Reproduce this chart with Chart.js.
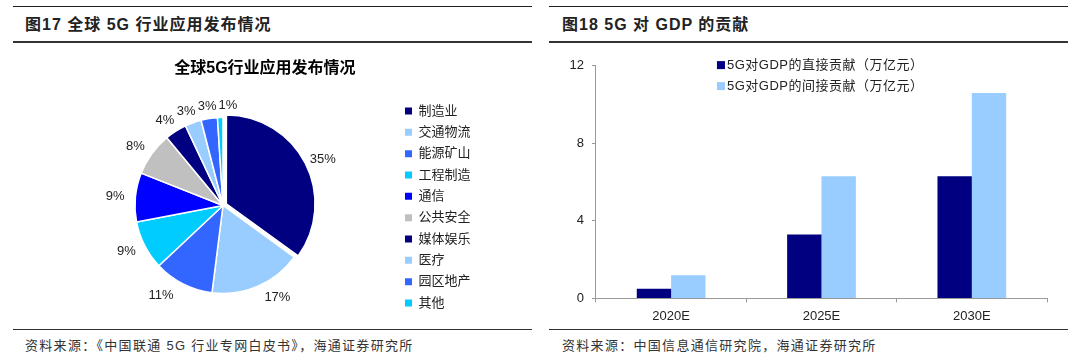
<!DOCTYPE html>
<html>
<head>
<meta charset="utf-8">
<script src="https://cdn.jsdelivr.net/npm/chart.js@4.4.1/dist/chart.umd.min.js"></script>
<style>
  body { margin: 0; width: 1080px; height: 363px; background: #fff; position: relative; overflow: hidden;
    font-family: "Liberation Sans", "Noto Sans CJK SC", sans-serif; color: #222; }
  .rule { position: absolute; height: 0; }
  .top { border-top: 1.5px solid #222; top: 6px; }
  .mid { border-top: 2px solid #333; top: 41px; }
  .foot { border-top: 1.5px solid #333; top: 329px; }
  .title { position: absolute; top: 15px; font-size: 16px; line-height: 20px; font-weight: bold; letter-spacing: 1px; white-space: nowrap; }
  .src { position: absolute; top: 338px; font-size: 13px; line-height: 16px; letter-spacing: 1.3px; color: #333; white-space: nowrap; }
  canvas { position: absolute; }
</style>
</head>
<body>
<div class="rule top" style="left:13px;width:519px"></div>
<div class="rule mid" style="left:13px;width:519px"></div>
<div class="rule foot" style="left:13px;width:519px"></div>
<div class="rule top" style="left:549px;width:519px"></div>
<div class="rule mid" style="left:549px;width:519px"></div>
<div class="rule foot" style="left:549px;width:519px"></div>

<div class="title" style="left:25px">图17 全球 5G 行业应用发布情况</div>
<div class="title" style="left:562px">图18 5G 对 GDP 的贡献</div>
<div class="src" style="left:25px">资料来源：《中国联通 5G 行业专网白皮书》，海通证券研究所</div>
<div class="src" style="left:562px">资料来源：中国信息通信研究院，海通证券研究所</div>

<canvas id="pieChart" width="540" height="280" style="left:0;top:50px"></canvas>
<canvas id="barChart" width="540" height="280" style="left:540px;top:50px"></canvas>

<script>
// pie data
const pieTitle = '全球5G行业应用发布情况';
const pieLabels = ['制造业', '交通物流', '能源矿山', '工程制造', '通信', '公共安全', '媒体娱乐', '医疗', '园区地产', '其他'];
const pieValues = [35, 17, 11, 9, 9, 8, 4, 3, 3, 1];
const pieColors = ['#000080', '#99CCFF', '#3366FF', '#00CCFF', '#0000FF', '#C0C0C0', '#000080', '#99CCFF', '#3366FF', '#00CCFF'];

// bar data
const years = ['2020E', '2025E', '2030E'];
const directGdp = [0.5, 3.3, 6.3];
const indirectGdp = [1.2, 6.3, 10.6];
const yTicks = [0, 4, 8, 12];

Chart.defaults.font.family = '"Liberation Sans", "Noto Sans CJK SC", sans-serif';
Chart.defaults.color = '#222';

// percent labels outside the pie
const pctLabels = {
  id: 'pctLabels',
  afterDatasetsDraw(chart) {
    const ctx = chart.ctx;
    const meta = chart.getDatasetMeta(0);
    ctx.save();
    ctx.font = '13px "Liberation Sans", Arial, sans-serif';
    ctx.fillStyle = '#222';
    ctx.textAlign = 'center';
    ctx.textBaseline = 'middle';
    let prev = null;
    meta.data.forEach((arc, i) => {
      const p = arc.getProps(['x', 'y', 'startAngle', 'endAngle', 'outerRadius'], true);
      const mid = (p.startAngle + p.endAngle) / 2;
      const dx = Math.cos(mid), dy = Math.sin(mid);
      const text = pieValues[i] + '%';
      const w = ctx.measureText(text).width;
      const h = 13;
      // labels below the pie sit wider apart
      const spread = dy > 0.8 ? 30 : 5;
      let x = p.x + dx * (p.outerRadius + 6) + dx * (w / 2 + spread);
      let y = p.y + dy * (p.outerRadius + 6) + dy * h / 2;
      // push right if it runs into the previous label
      if (prev && Math.abs(y - prev.y) < h && x - w / 2 < prev.right + 2 && x > prev.x) {
        x = prev.right + 2 + w / 2;
      }
      ctx.fillText(text, x, y);
      prev = { x: x, y: y, right: x + w / 2 };
    });
    ctx.restore();
  }
};

const pieChart = new Chart(document.getElementById('pieChart'), {
  type: 'pie',
  data: {
    labels: pieLabels,
    datasets: [{
      data: pieValues,
      backgroundColor: pieColors,
      borderColor: '#fff',
      borderWidth: 1.5,
      offset: pieValues.map((v, i) => (i === 0 ? 15 : 0)),
    }],
  },
  options: {
    responsive: false,
    animation: false,
    devicePixelRatio: 1,
    radius: 88,
    layout: { padding: { top: 0, left: 49.3, right: 59.5, bottom: 12.2 } },
    plugins: {
      title: {
        display: true,
        text: pieTitle,
        color: '#000',
        font: { size: 16, weight: 'bold' },
        padding: { top: 8.7, bottom: 15.3 },
      },
      legend: {
        position: 'right',
        align: 'end',
        labels: {
          boxWidth: 7,
          boxHeight: 7,
          padding: 8.33,
          color: '#222',
          font: { size: 13 },
          generateLabels: (chart) =>
            Chart.overrides.pie.plugins.legend.labels.generateLabels(chart).map((l) => ({ ...l, lineWidth: 0 })),
        },
      },
      tooltip: { enabled: false },
    },
  },
  plugins: [pctLabels],
});

// legend drawn inside the plot area, top right
const barLegend = {
  id: 'barLegend',
  afterDraw(chart) {
    const { ctx, chartArea } = chart;
    ctx.save();
    ctx.font = '13px "Liberation Sans", "Noto Sans CJK SC", sans-serif';
    ctx.letterSpacing = '0.5px';
    ctx.textBaseline = 'middle';
    chart.data.datasets.forEach((ds, i) => {
      const x = chartArea.left + 121;
      const y = chartArea.top - 0.7 + i * 21;
      ctx.fillStyle = ds.backgroundColor;
      ctx.fillRect(x, y - 4, 8, 8);
      ctx.fillStyle = '#222';
      ctx.fillText(ds.label, x + 10, y);
    });
    ctx.restore();
  }
};

const barChart = new Chart(document.getElementById('barChart'), {
  type: 'bar',
  data: {
    labels: years,
    datasets: [
      { label: '5G对GDP的直接贡献（万亿元）', data: directGdp, backgroundColor: '#000080' },
      { label: '5G对GDP的间接贡献（万亿元）', data: indirectGdp, backgroundColor: '#99CCFF' },
    ],
  },
  options: {
    responsive: false,
    animation: false,
    devicePixelRatio: 1,
    categoryPercentage: 0.457,
    barPercentage: 1,
    layout: { padding: { top: 15.7, left: 21.5, right: 33, bottom: 0 } },
    scales: {
      x: {
        grid: { drawOnChartArea: false, drawTicks: true, tickLength: 4, color: '#999' },
        border: { color: '#999' },
        ticks: { padding: 6, color: '#222', font: { size: 13 } },
      },
      y: {
        min: 0,
        max: 12,
        afterBuildTicks: (axis) => { axis.ticks = yTicks.map((v) => ({ value: v })); },
        grid: { drawOnChartArea: false, drawTicks: true, tickLength: 4, color: '#999' },
        border: { color: '#999' },
        ticks: { padding: 8, color: '#222', font: { size: 13 } },
      },
    },
    plugins: {
      legend: { display: false },
      tooltip: { enabled: false },
    },
  },
  plugins: [barLegend],
});
</script>
</body>
</html>
